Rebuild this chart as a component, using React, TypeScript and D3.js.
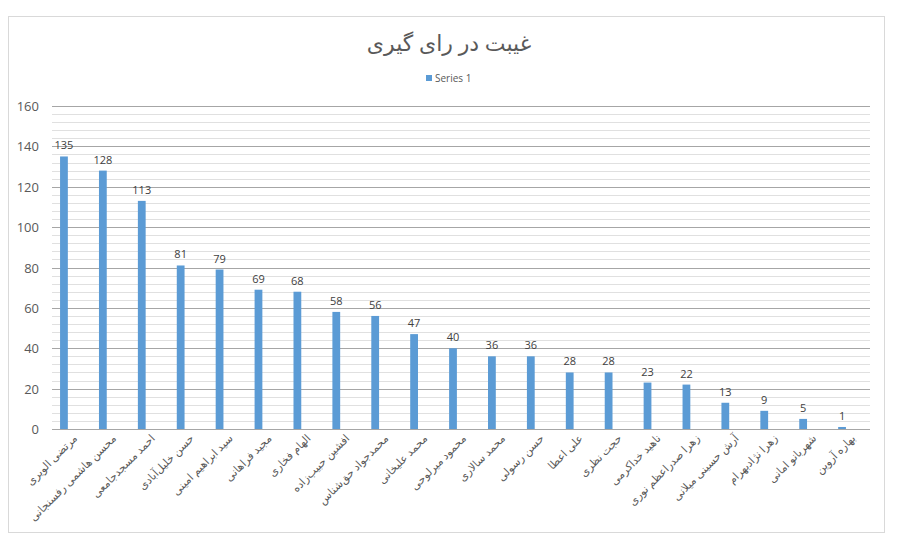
import * as d3 from 'd3';
import React, { useRef, useEffect } from 'react';

const names = [
    'مرتضی الویری',
    'محسن هاشمی رفسنجانی',
    'احمد مسجدجامعی',
    'حسن خلیل‌آبادی',
    'سید ابراهیم امینی',
    'مجید فراهانی',
    'الهام فخاری',
    'افشین حبیب‌زاده',
    'محمدجواد حق‌شناس',
    'محمد علیخانی',
    'محمود میرلوحی',
    'محمد سالاری',
    'حسن رسولی',
    'علی اعطا',
    'حجت نظری',
    'ناهید خداکرمی',
    'زهرا صدراعظم نوری',
    'آرش حسینی میلانی',
    'زهرا نژادبهرام',
    'شهربانو امانی',
    'بهاره آروین',
];
const series1 = [135, 128, 113, 81, 79, 69, 68, 58, 56, 47, 40, 36, 36, 28, 28, 23, 22, 13, 9, 5, 1];
const yTicks = [0, 20, 40, 60, 80, 100, 120, 140, 160];
const title = 'غیبت در رای گیری';
const seriesName = 'Series 1';

const W = 898;
const H = 538;
const FONT = "'Open Sans', 'DejaVu Sans', sans-serif";

const App: React.FC = () => {
    const ref = useRef<SVGSVGElement | null>(null);

    useEffect(() => {
        const svg = d3.select(ref.current);
        svg.selectAll('*').remove();

        const left = 52;
        const right = 870;
        const top = 106;
        const bottom = 429;

        const x = d3.scaleBand<string>().domain(names).range([44.5, 861.5]).paddingInner(0.8).paddingOuter(0.4);
        const y = d3.scaleLinear().domain([0, 160]).range([bottom, top]);

        // chart frame
        svg.append('rect')
            .attr('x', 8.5).attr('y', 16.5)
            .attr('width', 876).attr('height', 516)
            .attr('fill', '#fff')
            .attr('stroke', '#d9d9d9');

        // minor gridlines
        svg.append('g')
            .selectAll('line')
            .data(d3.range(0, 161, 4).filter((v) => v % 20 !== 0))
            .join('line')
            .attr('x1', left).attr('x2', right)
            .attr('y1', (d) => Math.round(y(d)) + 0.5)
            .attr('y2', (d) => Math.round(y(d)) + 0.5)
            .attr('stroke', '#e0e0e0');

        // major gridlines
        svg.append('g')
            .selectAll('line')
            .data(yTicks)
            .join('line')
            .attr('x1', left).attr('x2', right)
            .attr('y1', (d) => Math.round(y(d)) + 0.5)
            .attr('y2', (d) => Math.round(y(d)) + 0.5)
            .attr('stroke', '#a6a6a6');

        // y tick labels
        svg.append('g')
            .selectAll('text')
            .data(yTicks)
            .join('text')
            .attr('x', 39)
            .attr('y', (d) => y(d) + 5)
            .attr('text-anchor', 'end')
            .attr('font-family', FONT)
            .attr('font-size', 13)
            .attr('fill', '#595959')
            .text((d) => d);

        // bars
        svg.append('g')
            .selectAll('rect')
            .data(series1)
            .join('rect')
            .attr('x', (_, i) => x(names[i])!)
            .attr('y', (d) => y(d))
            .attr('width', x.bandwidth())
            .attr('height', (d) => y(0) - y(d))
            .attr('fill', '#5b9bd5');

        // data labels
        svg.append('g')
            .selectAll('text')
            .data(series1)
            .join('text')
            .attr('x', (_, i) => x(names[i])! + x.bandwidth() / 2)
            .attr('y', (d) => y(d) - 7)
            .attr('text-anchor', 'middle')
            .attr('font-family', FONT)
            .attr('font-size', 11)
            .attr('fill', '#404040')
            .text((d) => d);

        // category labels, rotated
        svg.append('g')
            .selectAll('text')
            .data(names)
            .join('text')
            .attr('transform', (d) => `translate(${x(d)! + x.bandwidth() / 2 + 14}, ${bottom + 10}) rotate(-45)`)
            .attr('text-anchor', 'end')
            .attr('font-family', FONT)
            .attr('font-size', 11)
            .attr('fill', '#595959')
            .text((d) => d);

        // title
        svg.append('text')
            .attr('x', 449)
            .attr('y', 51)
            .attr('text-anchor', 'middle')
            .attr('font-family', FONT)
            .attr('font-size', 22)
            .attr('fill', '#595959')
            .text(title);

        // legend
        const lg = svg.append('g').attr('transform', 'translate(426, 79)');
        lg.append('rect').attr('x', 0).attr('y', -4).attr('width', 6).attr('height', 6).attr('fill', '#5b9bd5');
        lg.append('text')
            .attr('x', 9).attr('y', 2.5)
            .attr('font-family', FONT)
            .attr('font-size', 10)
            .attr('fill', '#595959')
            .text(seriesName);
    }, []);

    return (
        <svg
            ref={ref}
            width={W}
            height={H}
            style={{ position: 'absolute', left: 0, top: 0 }}
        />
    );
};

export default App;
